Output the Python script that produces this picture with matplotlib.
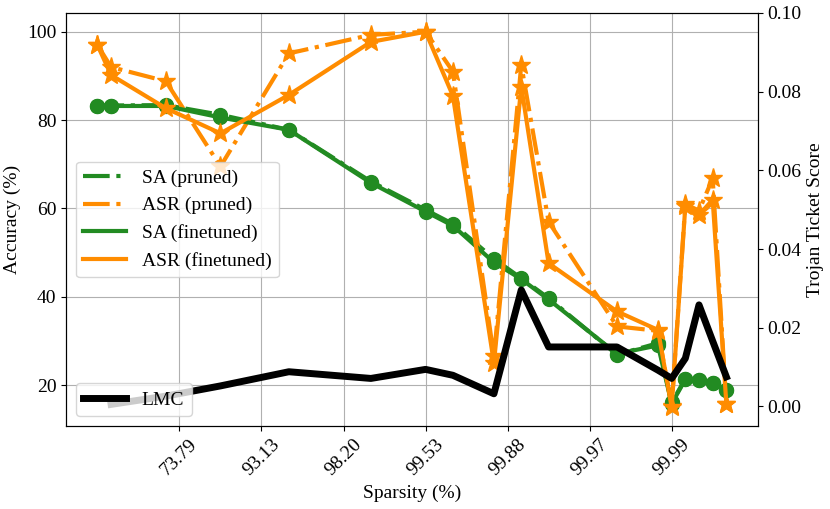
import matplotlib
matplotlib.use('Agg')
import matplotlib.pyplot as plt
from matplotlib.lines import Line2D

plt.rcParams['font.family'] = 'serif'
plt.rcParams['font.serif'] = ['Liberation Serif', 'DejaVu Serif']
plt.rcParams['font.size'] = 14

# pruning rounds (x position) and sparsity tick labels
rounds = [0, 1, 5, 9, 14, 20, 24, 26, 29, 31, 33, 38, 41, 42, 43, 44, 45, 46]
tick_rounds = [6, 12, 18, 24, 30, 36, 42]
tick_labels = ['73.79', '93.13', '98.20', '99.53', '99.88', '99.97', '99.99']

sa_pruned = [83.3, 83.3, 83.4, 81.2, 77.8, 66.1, 59.7, 56.5, 48.6, 44.2, 39.7,
             26.9, 29.5, 16.1, 21.4, 21.2, 20.4, 18.8]
asr_pruned = [97.0, 92.0, 88.8, 69.5, 95.1, 99.3, 100.0, 91.0, 26.5, 92.5, 57.0,
              33.3, 32.3, 15.2, 61.0, 59.5, 66.8, 15.8]
sa_finetuned = [83.3, 83.2, 83.2, 80.6, 77.8, 65.8, 59.3, 56.1, 47.8, 44.0, 39.4,
                27.1, 29.0, 15.8, 21.3, 21.2, 20.4, 18.8]
asr_finetuned = [97.0, 90.2, 82.7, 77.0, 85.7, 97.7, 100.0, 85.5, 25.0, 87.6, 47.6,
                 36.7, 32.5, 15.0, 60.5, 58.5, 62.0, 15.8]

# trojan ticket score (LMC), starts at round 1
lmc_rounds = rounds[1:]
lmc = [0.0005, 0.0026, 0.0052, 0.0088, 0.0071, 0.0094, 0.0079, 0.0032, 0.0296,
       0.0151, 0.0151, 0.0092, 0.0071, 0.0122, 0.0258, 0.0166, 0.0075]

green = 'forestgreen'
orange = 'darkorange'

fig, ax1 = plt.subplots(figsize=(8.3, 5.09), dpi=100)
fig.subplots_adjust(left=0.0795, right=0.913, top=0.9745, bottom=0.163)

ax1.plot(rounds, sa_pruned, '-.', color=green, lw=3, marker='o', ms=10)
ax1.plot(rounds, asr_pruned, '-.', color=orange, lw=3, marker='*', ms=14)
ax1.plot(rounds, sa_finetuned, '-', color=green, lw=3, marker='o', ms=10)
ax1.plot(rounds, asr_finetuned, '-', color=orange, lw=3, marker='*', ms=14)

ax1.set_xticks(tick_rounds)
ax1.set_xticklabels(tick_labels, rotation=45)
ax1.set_xlabel('Sparsity (%)')
ax1.set_ylabel('Accuracy (%)')
ax1.grid(True)

handles = [
    Line2D([], [], color=green, lw=3, ls='-.'),
    Line2D([], [], color=orange, lw=3, ls='-.'),
    Line2D([], [], color=green, lw=3, ls='-'),
    Line2D([], [], color=orange, lw=3, ls='-'),
]
ax1.legend(handles, ['SA (pruned)', 'ASR (pruned)', 'SA (finetuned)', 'ASR (finetuned)'],
           loc='center left', fontsize=14, handlelength=2.2)

ax2 = ax1.twinx()
ax2.plot(lmc_rounds, lmc, color='black', lw=5, label='LMC')
ax2.set_ylim(-0.005, 0.1)
ax2.set_ylabel('Trojan Ticket Score')
ax2.legend(loc='lower left', fontsize=14, handlelength=2.2)

plt.savefig('out.png')
